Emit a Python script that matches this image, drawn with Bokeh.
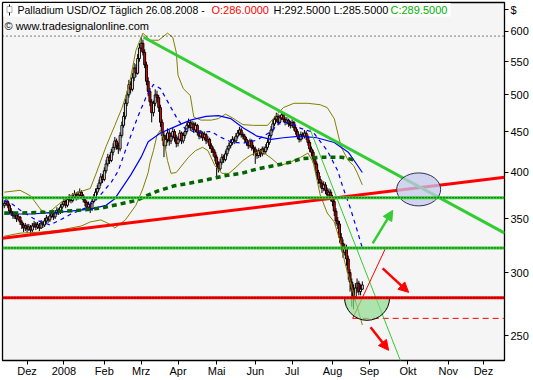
import numpy as np
from bokeh.plotting import figure
from bokeh.models import (Range1d, FixedTicker, PrintfTickFormatter, Label, BoxAnnotation,
                          Arrow, NormalHead, ColumnDataSource, Span)
from bokeh.embed import file_html
from bokeh.resources import INLINE

# ---------------- data (x = weekday index, 0 = 14 Nov 2007) ----------------
month_ticks = [13, 34, 57, 78, 99, 121, 143, 164, 187, 208, 230, 253, 273]
month_labels = ["Dez", "2008", "Feb", "Mrz", "Apr", "Mai", "Jun", "Jul", "Aug", "Sep", "Okt", "Nov", "Dez"]
price_ticks = [250, 300, 350, 400, 450, 500, 550, 600]
currency_tick = 639   # where the "$" unit sign sits on the price axis

opens = [364,366,368,364,358,356,353,354,350,352,
         347,344,341,343,340,342,339,343,345,342,
         344,341,346,344,348,351,349,353,355,352,
         356,359,357,362,365,368,364,370,372,369,
         373,376,372,375,378,374,370,367,362,365,
         360,368,372,378,382,388,395,392,402,410,
         418,414,424,430,438,432,428,445,458,470,
         488,500,515,508,525,540,532,555,572,580,
         565,545,520,505,490,475,488,500,496,482,
         462,445,432,440,448,438,444,450,442,435,
         440,448,438,445,450,458,462,455,460,452,
         458,449,444,448,442,446,438,440,432,428,
         424,418,410,404,412,418,415,422,428,432,
         436,440,438,444,448,452,446,444,440,436,
         432,438,430,428,424,420,426,422,428,425,
         430,436,445,452,460,466,470,462,468,472,
         466,462,465,460,458,462,455,450,444,440,
         446,444,448,443,436,428,424,416,410,400,
         392,388,382,386,380,375,378,372,368,358,
         348,345,332,326,318,322,312,300,292,286,
         280,287,291,284,286]
highs = [369,371,370,366,361,358,357,356,355,353,
         349,346,346,345,345,344,346,348,347,347,
         346,349,348,351,354,353,356,358,357,359,
         362,361,365,368,372,370,373,376,375,377,
         380,378,379,382,380,376,372,369,368,367,
         371,376,382,386,392,399,398,406,415,422,
         421,428,435,443,441,436,449,463,476,494,
         506,522,520,532,548,546,562,580,590,586,
         570,550,526,510,494,492,508,506,500,486,
         466,450,446,454,452,449,455,453,446,444,
         452,450,449,455,462,467,465,464,463,462,
         460,452,452,450,450,448,444,442,435,431,
         427,421,413,416,422,421,426,432,436,440,
         444,443,448,452,456,455,449,447,443,439,
         441,440,433,431,427,429,428,431,431,434,
         440,449,457,465,470,475,473,472,476,475,
         469,469,467,464,466,464,458,453,447,450,
         449,452,451,446,439,431,427,419,413,403,
         396,391,390,389,383,382,381,375,371,361,
         352,348,336,330,326,325,315,303,295,290,
         291,295,293,290,292.5]
lows = [361,363,361,355,353,350,350,347,348,344,
        340,337,338,336,338,335,337,341,339,340,
        338,340,341,342,346,346,347,351,349,350,
        354,354,355,360,363,361,362,367,366,367,
        371,369,370,373,371,367,363,358,359,356,
        358,366,370,375,380,385,388,390,399,407,
        410,412,420,427,427,422,425,442,455,466,
        484,496,502,505,520,526,530,550,566,560,
        540,514,498,484,462,470,484,490,476,456,
        438,418,428,436,432,434,440,437,430,431,
        437,434,435,441,447,454,451,452,448,449,
        445,440,441,438,439,434,435,428,423,419,
        413,396,400,402,409,411,413,419,425,429,
        433,434,435,441,445,442,440,436,432,428,
        429,426,420,410,416,417,418,419,421,422,
        427,433,442,449,457,462,458,459,465,462,
        458,459,456,454,455,451,446,440,436,437,
        440,441,439,432,424,419,411,405,395,387,
        383,377,379,376,371,372,368,363,353,343,
        340,327,320,313,315,306,294,284,272,270,
        276,283,281,281,285.5]
closes = [366,368,364,358,356,353,354,350,352,347,
          344,341,343,340,342,339,343,345,342,344,
          341,346,344,348,351,349,353,355,352,356,
          359,357,362,365,368,364,370,372,369,373,
          376,372,375,378,374,370,367,362,365,360,
          368,372,378,382,388,395,392,402,410,418,
          414,424,430,438,432,428,445,458,470,488,
          500,515,508,525,540,532,555,572,580,565,
          545,520,505,490,475,488,500,496,482,462,
          445,432,440,448,438,444,450,442,435,440,
          448,438,445,450,458,462,455,460,452,458,
          449,444,448,442,446,438,440,432,428,424,
          418,410,404,412,418,415,422,428,432,436,
          440,438,444,448,452,446,444,440,436,432,
          438,430,428,424,420,426,422,428,425,430,
          436,445,452,460,466,470,462,468,472,466,
          462,465,460,458,462,455,450,444,440,446,
          444,448,443,436,428,424,416,410,400,392,
          388,382,386,380,375,378,372,368,358,348,
          345,332,326,318,322,312,300,292,286,280,
          287,291,284,286,289.5]

# 50-day average (blue solid)
sma50_x = [0,15,32,49,58,63,72,78,82,89,98,106,115,122,129,136,144,152,159,169,178,188,196,201,204]
sma50 = [355,355,357,360,364,371,397,418,437,448,457,465,470,471,467,455,444,440,442,444,442,436,424,409,400]
# 20-day average (blue dashed)
sma20_x = [0,4,9,18,26,32,38,46,52,57,61,65,70,76,81,85,89,95,99,103,109,118,122,129,136,144,152,157,163,169,176,184,190,193,197,201,204]
sma20 = [369,366,359,349,344,349,355,361,369,380,389,402,432,469,498,515,509,482,465,454,449,450,444,437,435,439,450,462,462,454,449,426,402,383,362,339,322]
# Bollinger bands (olive)
bb_up_x = [0,9,15,21,25,31,37,44,49,52,58,63,67,71,75,78,79,83,88,93,96,98,99,102,106,108,112,118,122,126,130,136,142,150,154,159,165,173,180,184,188,190,192,196,199,201,204]
bb_up = [378,380,374,359,356,365,374,379,382,397,431,458,481,512,568,590,597,585,585,597,590,565,529,509,499,469,465,465,467,473,468,459,458,458,469,482,488,488,486,482,467,448,430,414,408,400,386]
bb_lo_x = [0,9,21,32,44,49,55,61,63,69,75,79,82,83,85,87,89,91,93,95,98,105,109,113,116,120,124,128,132,136,140,146,152,157,163,169,173,176,180,184,188,192,194,197,200,203,204]
bb_lo = [333,336,337,339,343,347,349,344,341,349,364,382,400,411,426,445,452,439,414,399,400,418,426,430,426,408,399,399,406,414,420,426,417,408,412,418,423,412,375,356,347,325,309,293,277,263,258]
# 200-day average (dark green dotted)
sma200_x = [0,9,26,44,55,65,75,81,87,97,106,116,125,135,144,154,163,169,180,192,201]
sma200 = [356,356,357,359,361,365,369,374,379,385,388,392,396,399,404,408,412,416,418,418,414]

# drawn analysis levels / trend lines (price values)
support_green = [372, 322]
support_red = 279
high_level = 592
target_level = 263
target_start = 198.5
downtrend_x, downtrend_y = [79.4, 285.1], [590, 336]
uptrend_x, uptrend_y = [-1, 285.1], [331, 394.5]
thin_green_x, thin_green_y = [173.5, 226], [457, 232]
thin_red_x, thin_red_y = [198.5, 217.3], [263, 322]

FONT = "Liberation Sans"
GREEN = "#33CC33"
RED = "#FF0000"

p = figure(width=533, height=380, x_range=Range1d(-1, 285), y_range=Range1d(233, 652),
           y_axis_type="log", y_axis_location="right", output_backend="svg",
           toolbar_location=None, min_border_left=2, min_border_top=2,
           min_border_right=29, min_border_bottom=20,
           background_fill_color="#F5F5F5", border_fill_color="white",
           outline_line_color="black", outline_line_width=1.3)
p.grid.visible = False

xa = p.xaxis[0]
xa.ticker = FixedTicker(ticks=month_ticks)
xa.major_label_overrides = {t: l for t, l in zip(month_ticks, month_labels)}
xa.major_label_text_align = "left"
xa.major_tick_in = 0
xa.major_tick_out = 4
xa.minor_tick_line_color = None
xa.axis_line_color = None
xa.major_label_standoff = 0
xa.major_label_text_font = FONT
xa.major_label_text_font_size = "11px"
xa.major_label_text_color = "black"

ya = p.yaxis[0]
ya.ticker = FixedTicker(ticks=price_ticks + [currency_tick])
ya.formatter = PrintfTickFormatter(format="%d")
ya.major_label_overrides = {currency_tick: "$"}
ya.major_tick_in = 0
ya.major_tick_out = 4
ya.minor_tick_line_color = None
ya.axis_line_color = None
ya.major_label_standoff = 2
ya.major_label_text_font = FONT
ya.major_label_text_font_size = "11px"
ya.major_label_text_color = "black"

# ---- candles ----
idx = list(range(len(closes)))
src = ColumnDataSource(dict(
    x=idx, h=highs, l=lows,
    top=[max(o, c) for o, c in zip(opens, closes)],
    bottom=[min(o, c) for o, c in zip(opens, closes)],
    fill=["white" if c >= o else RED for o, c in zip(opens, closes)]))
p.segment(x0="x", y0="h", x1="x", y1="l", source=src, line_color="black", line_width=1)
p.vbar(x="x", width=1.1, top="top", bottom="bottom", fill_color="fill",
       line_color="black", line_width=1, source=src)

# ---- indicators ----
p.line(bb_up_x, bb_up, line_color="#808000", line_width=1)
p.line(bb_lo_x, bb_lo, line_color="#808000", line_width=1)
p.line(sma50_x, sma50, line_color="#0000FF", line_width=1.2)
p.line(sma20_x, sma20, line_color="#0000FF", line_width=1.2, line_dash="4 4")
p.line(sma200_x, sma200, line_color="#006400", line_width=3.5, line_dash="5 4")

# ---- horizontal levels ----
p.add_layout(Span(location=high_level, dimension="width", line_color="black",
                  line_width=1, line_dash="1 3"))
for lv in support_green:
    p.add_layout(Span(location=lv, dimension="width", line_color=GREEN, line_width=3))
    p.add_layout(Span(location=lv, dimension="width", line_color="black",
                      line_width=1, line_dash="1 2"))
p.add_layout(Span(location=support_red, dimension="width", line_color=RED, line_width=3))
p.add_layout(Span(location=support_red, dimension="width", line_color="black",
                  line_width=1, line_dash="1 2"))
p.line([target_start, 285], [target_level, target_level], line_color=RED,
       line_width=1, line_dash="6 4")

# ---- trend lines ----
p.line(uptrend_x, uptrend_y, line_color=RED, line_width=3)
p.line(downtrend_x, downtrend_y, line_color=GREEN, line_width=3)
p.line(thin_green_x, thin_green_y, line_color=GREEN, line_width=1)
p.line(thin_red_x, thin_red_y, line_color=RED, line_width=1)

# ---- shapes ----
p.ellipse(x=[236.1], y=[381], width=44, height=33, width_units="screen",
          height_units="screen", fill_color="#C4C8EC", fill_alpha=0.75,
          line_color="#303050", line_width=1)
p.wedge(x=[206.7], y=[279], radius=22.5, radius_units="screen",
        start_angle=np.pi, end_angle=2 * np.pi, fill_color="#8EDC8E",
        fill_alpha=0.7, line_color="black", line_width=1)

# ---- arrows ----
p.add_layout(Arrow(end=NormalHead(size=10, fill_color=GREEN, line_color=GREEN),
                   x_start=209.9, y_start=326.2, x_end=221.3, y_end=358.7,
                   line_color=GREEN, line_width=2.5))
p.add_layout(Arrow(end=NormalHead(size=10, fill_color=RED, line_color=RED),
                   x_start=215.6, y_start=303.7, x_end=230.4, y_end=283.4,
                   line_color=RED, line_width=2.5))
p.add_layout(Arrow(end=NormalHead(size=10, fill_color=RED, line_color=RED),
                   x_start=208.7, y_start=256.3, x_end=219.0, y_end=239.9,
                   line_color=RED, line_width=2.5))

# ---- header ----
p.add_layout(BoxAnnotation(left=1, right=448, left_units="screen", right_units="screen",
                           top=651, bottom=626.4, fill_color="white", fill_alpha=1,
                           line_color=None))
p.add_layout(BoxAnnotation(left=6.5, right=7.5, left_units="screen", right_units="screen",
                           top=648.4, bottom=628.2, fill_color="black", fill_alpha=1,
                           line_color=None))
p.add_layout(BoxAnnotation(left=4.5, right=9.5, left_units="screen", right_units="screen",
                           top=644.7, bottom=633.7, fill_color="white", fill_alpha=1,
                           line_color="black", line_width=1))

def lab(x, y, t, color="black", size="11px"):
    p.add_layout(Label(x=x, y=y, x_units="screen", y_units="data", text=t, text_color=color,
                       text_font=FONT, text_font_size=size, text_baseline="middle",
                       text_align="left"))

lab(15, 638.2, "Palladium USD/OZ Täglich  26.08.2008 -", size="10.5px")
lab(209, 638.2, "O:286.0000", RED)
lab(271, 638.2, "H:292.5000 L:285.5000")
lab(388, 638.2, "C:289.5000", "#00B000")
lab(2, 609.6, "© www.tradesignalonline.com")

open("out.html", "w").write(file_html(p, INLINE))
